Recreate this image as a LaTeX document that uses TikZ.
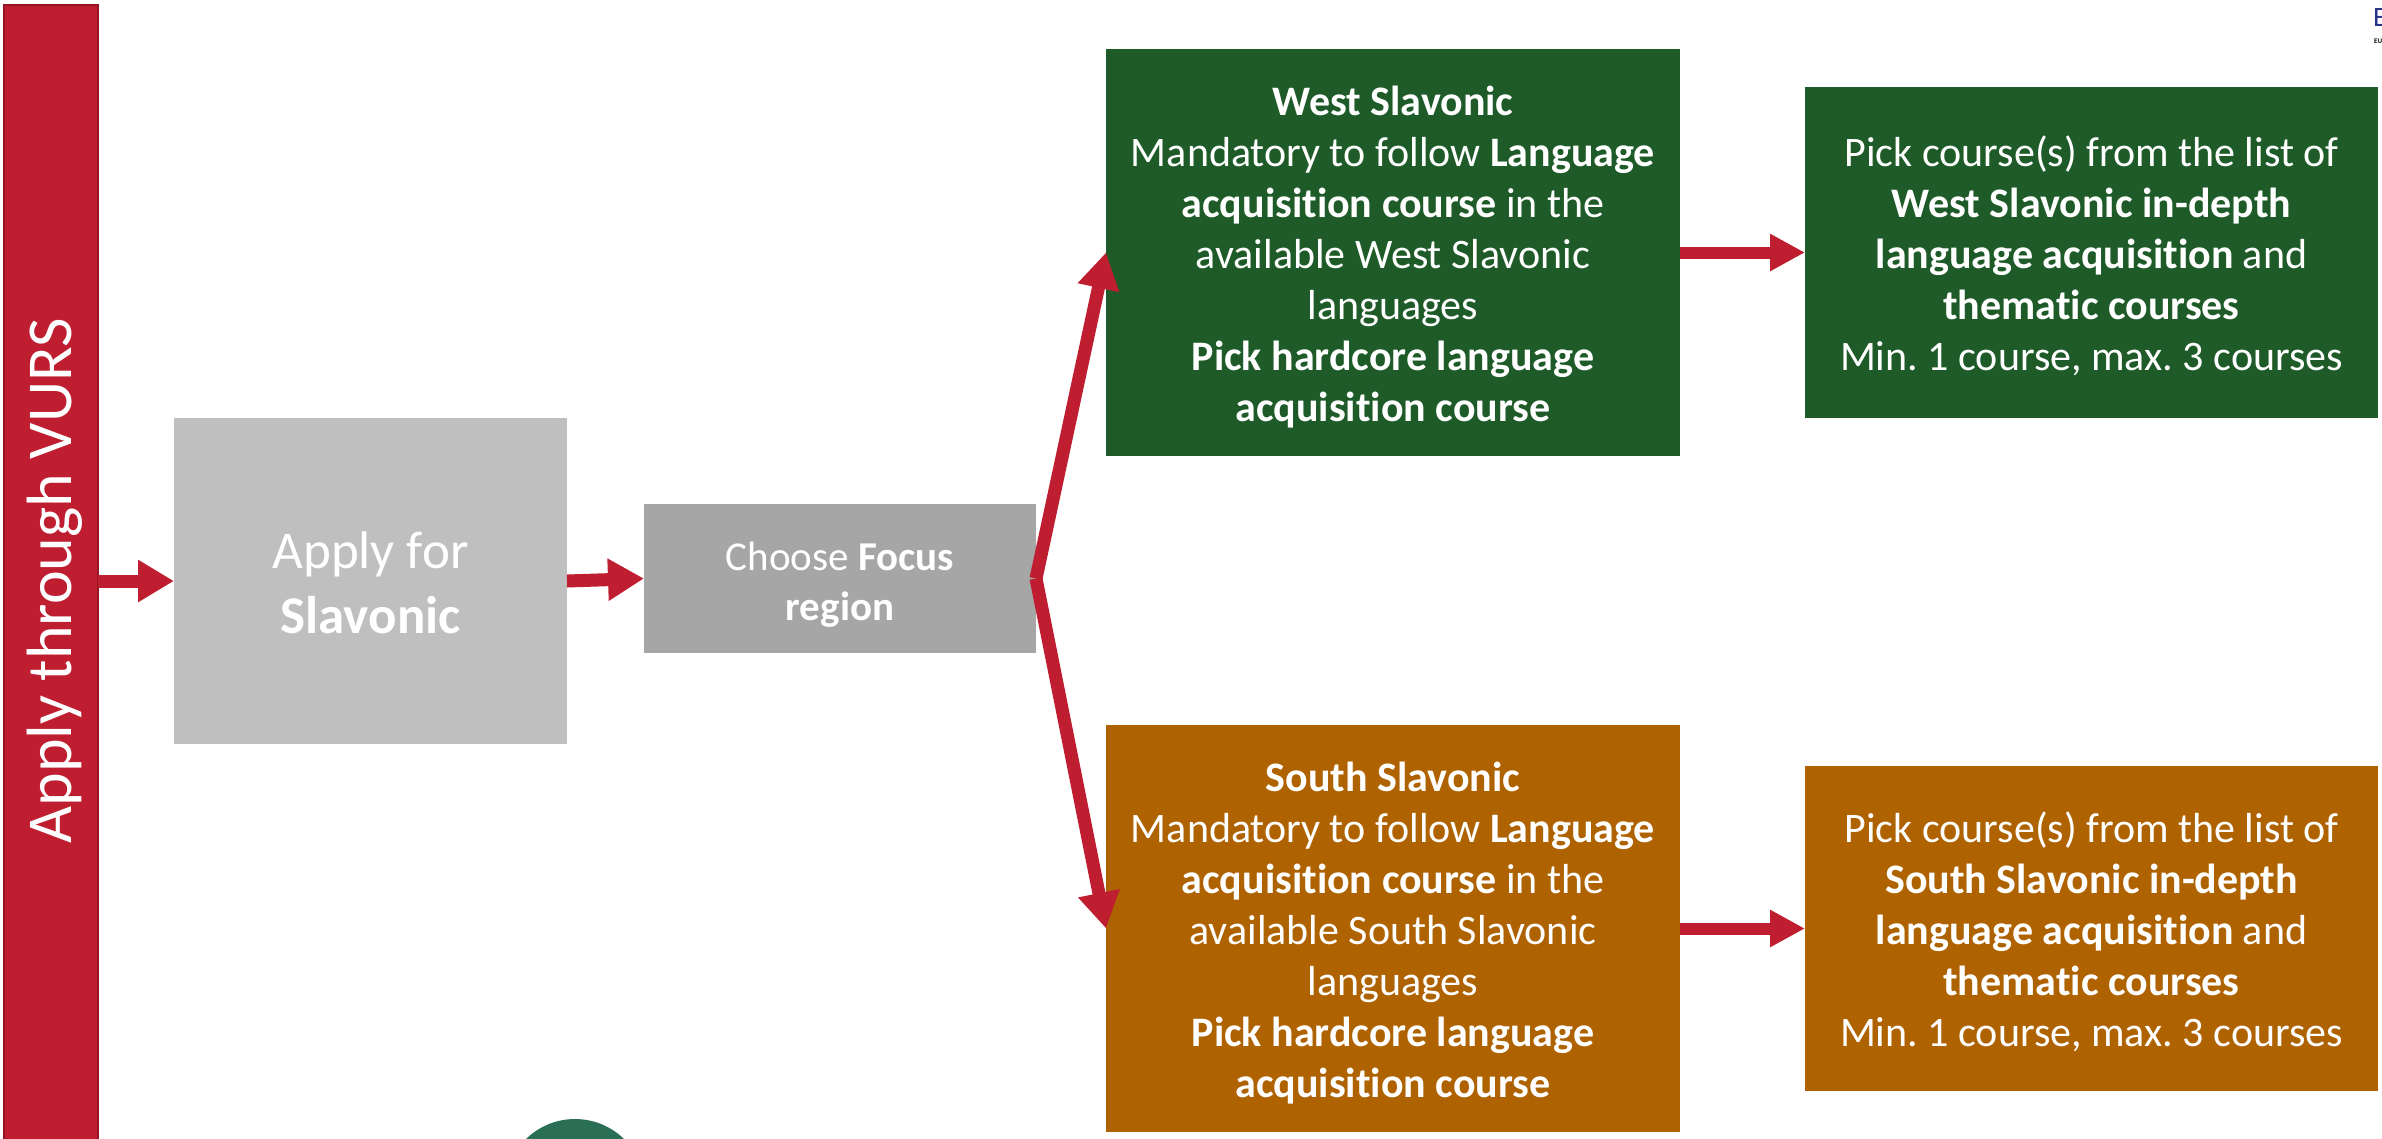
\documentclass[tikz,border=0pt]{standalone}
\usepackage{fontspec}
\setmainfont{Carlito}[Ligatures=NoCommon]
\frenchspacing
\usetikzlibrary{arrows.meta}
\definecolor{vred}{RGB}{190,30,48}
\definecolor{vredd}{RGB}{150,20,35}
\definecolor{gray1}{RGB}{191,191,191}
\definecolor{gray2}{RGB}{166,166,166}
\definecolor{wgreen}{RGB}{30,91,40}
\definecolor{sorange}{RGB}{175,98,0}
\definecolor{tealc}{RGB}{42,111,85}
\definecolor{eublue}{RGB}{40,50,140}
\begin{document}
\begin{tikzpicture}[x=1pt,y=-1pt,
  box/.style={rectangle, inner sep=0pt, outer sep=0pt},
  txt/.style={inner sep=0pt, text=white, align=center},
  bodytext/.style={txt, font=\fontsize{42}{51}\selectfont},
  arr/.style={draw=vred, line width=13pt, -{Triangle[length=36pt,width=40pt]}},
  arrs/.style={draw=vred, line width=12pt, -{Triangle[length=35pt,width=35pt]}}]
\useasboundingbox (0,0) rectangle (2382,1138);
\begin{scope}
  \clip (0,0) rectangle (2382,1138);
  \fill[tealc] (575,1189) circle (70pt);
  \node[anchor=north west, inner sep=0pt, text=eublue, font=\fontsize{28}{30}\selectfont] (logoE) at (2373,8) {E};
  \node[anchor=north west, inner sep=0pt, font=\bfseries\fontsize{7}{8}\selectfont] (logoEU) at (2374,39) {EU};
\end{scope}
% red bar
\node[box, fill=vred, draw=vredd, line width=1.5pt, minimum width=94pt, minimum height=1140pt] (bar) at (51,575) {};
\node[txt, rotate=90, font=\fontsize{64}{74}\selectfont] (barlabel) at (55,581) {Apply through VURS};
% gray boxes
\node[box, fill=gray1, minimum width=393pt, minimum height=326pt] (app) at (370.5,581) {};
\node[txt, font=\fontsize{53}{65}\selectfont] (apptext) at ([yshift=-2pt]app.center) {Apply for\\\textbf{Slavonic}};
\node[box, fill=gray2, minimum width=392pt, minimum height=149pt] (foc) at (840,578.5) {};
\node[txt, font=\fontsize{41}{50}\selectfont] (foctext) at ([yshift=-6pt]foc.center) {Choose \textbf{Focus}\\\textbf{region}};
% west
\node[box, fill=wgreen, minimum width=574pt, minimum height=407pt] (wsl) at (1393,252.5) {};
\node[bodytext] (wsltext) at ([yshift=-5pt]wsl.center) {\textbf{West Slavonic}\\Mandatory to follow \textbf{Language}\\\textbf{acquisition course} in the\\available West Slavonic\\languages\\\textbf{Pick hardcore language}\\\textbf{acquisition course}};
\node[box, fill=wgreen, minimum width=573pt, minimum height=331pt] (wsr) at (2091.5,252.5) {};
\node[bodytext] (wsrtext) at ([yshift=-3pt]wsr.center) {Pick course(s) from the list of\\\textbf{West Slavonic in-depth}\\\textbf{language acquisition} and\\\textbf{thematic courses}\\Min. 1 course, max. 3 courses};
% south
\node[box, fill=sorange, minimum width=574pt, minimum height=407pt] (ssl) at (1393,928.5) {};
\node[bodytext] (ssltext) at ([yshift=-5pt]ssl.center) {\textbf{South Slavonic}\\Mandatory to follow \textbf{Language}\\\textbf{acquisition course} in the\\available South Slavonic\\languages\\\textbf{Pick hardcore language}\\\textbf{acquisition course}};
\node[box, fill=sorange, minimum width=573pt, minimum height=325pt] (ssr) at (2091.5,928.5) {};
\node[bodytext] (ssrtext) at ([yshift=-3pt]ssr.center) {Pick course(s) from the list of\\\textbf{South Slavonic in-depth}\\\textbf{language acquisition} and\\\textbf{thematic courses}\\Min. 1 course, max. 3 courses};
% arrows
\draw[arr] (bar.east |- app.west) -- (app.west);
\draw[arr] (app.east) -- (foc.west);
\draw[arr] (foc.east) -- (wsl.west);
\draw[arr] (foc.east) -- (ssl.west);
\draw[arrs] (wsl.east) -- (wsr.west);
\draw[arrs] (ssl.east) -- (ssr.west);
\end{tikzpicture}
\end{document}
